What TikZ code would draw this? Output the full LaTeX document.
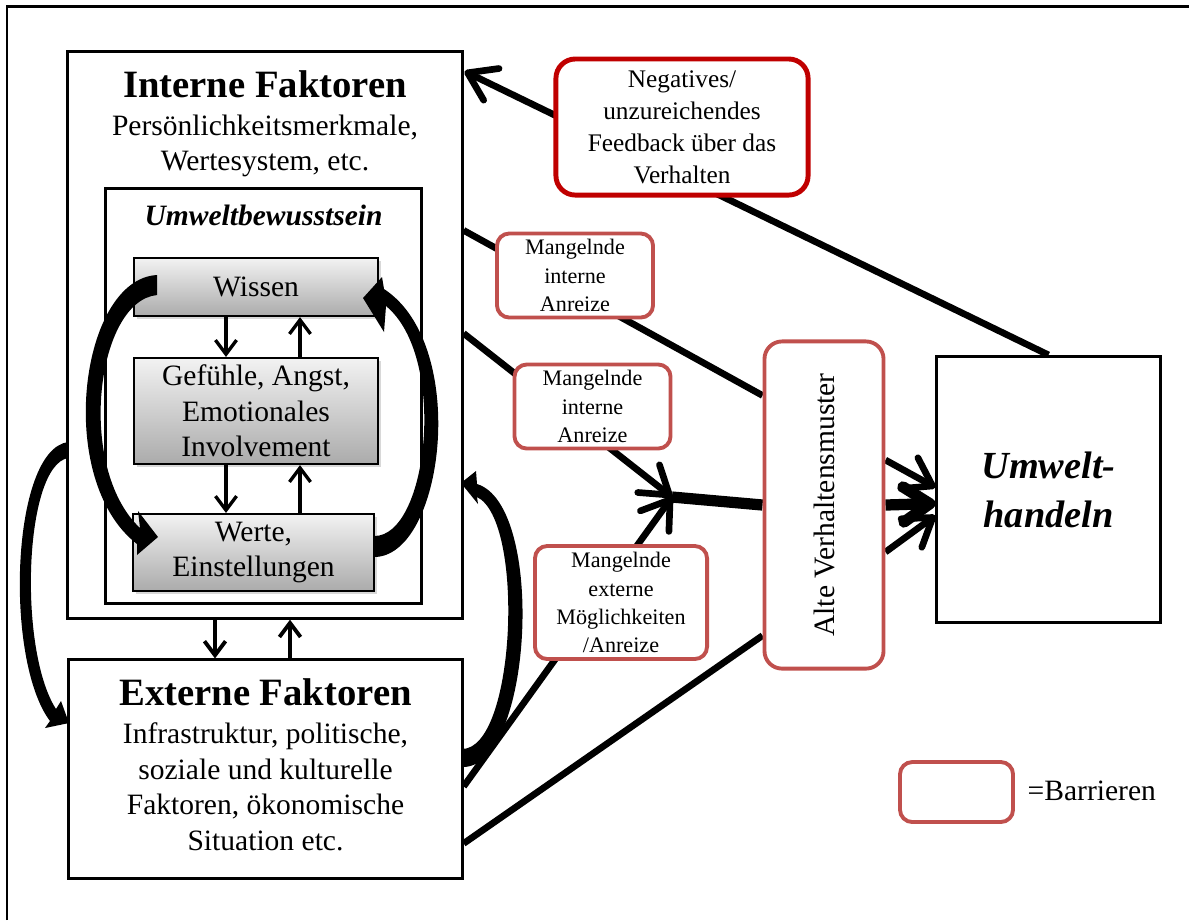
\documentclass[tikz,border=0pt]{standalone}
\usepackage{fontspec}
\setmainfont{Liberation Serif}
\usepackage{graphicx}
\usetikzlibrary{arrows.meta, calc, backgrounds, shadows}

\definecolor{barrot}{HTML}{C0504D}
\definecolor{fbrot}{HTML}{C00000}

\newcommand{\titelschrift}{\fontsize{11}{13}\selectfont\bfseries}
\newcommand{\textschrift}{\fontsize{8.4}{10.1}\selectfont}
\newcommand{\handelnschrift}{\fontsize{10.9}{13.9}\selectfont\bfseries\itshape}
\newcommand{\fbschrift}{\fontsize{7.2}{9.1}\selectfont}
\newcommand{\barschrift}{\fontsize{6.3}{8.0}\selectfont}

\tikzset{
	kasten/.style={draw, line width=0.85pt, fill=white, inner sep=0pt},
	grauKasten/.style={draw, line width=0.6pt, top color=black!5, bottom color=black!33,
		inner sep=0pt, align=center, font=\textschrift,
		drop shadow={shadow xshift=0.8pt, shadow yshift=-0.8pt, opacity=0.3}},
	barriere/.style={draw=barrot, line width=1.1pt, rounded corners=3.5pt, fill=white,
		inner sep=0pt, align=center, font=\barschrift},
	verbinder/.style={line width=1.9pt},
	dickVerbinder/.style={line width=3.2pt},
	spitze/.style={-{Straight Barb[length=7.5pt, width=10pt, round]}},
	kleinPfeil/.style={line width=0.95pt, -{Straight Barb[length=4pt, width=6pt]}}
}

\begin{document}
\begin{tikzpicture}[x=0.01cm, y=-0.01cm]
	\useasboundingbox (0,0) rectangle (1189,920);
	\draw[line width=0.85pt] (7,920) -- (7,6) -- (1189,6);

	\node[kasten, minimum width=3.94cm, minimum height=5.66cm] (interne) at (265,335) {};
	\node[kasten, minimum width=3.93cm, minimum height=2.18cm] (externe) at (265.5,769) {};
	\node[kasten, minimum width=3.15cm, minimum height=4.14cm] (umwelt) at (263.5,396) {};
	\node[kasten, minimum width=2.23cm, minimum height=2.66cm, align=center, font=\handelnschrift] (handeln) at (1048.5,489.5) {Umwelt-\\handeln};

	\node[font=\titelschrift, anchor=base] (intTitel) at (265,97) {Interne Faktoren};
	\node[font=\textschrift, align=center] (intText) at (265,146) {Persönlichkeitsmerkmale,\\Wertesystem, etc.};
	\node[font=\textschrift\bfseries\itshape, anchor=base] (umweltTitel) at (263.5,225) {Umweltbewusstsein};
	\node[font=\titelschrift, anchor=base] (extTitel) at (265.5,705) {Externe Faktoren};
	\node[font=\textschrift, align=center] (extText) at (265.5,787) {Infrastruktur, politische,\\soziale und kulturelle\\Faktoren, ökonomische\\Situation etc.};

	\node[grauKasten, minimum width=2.44cm, minimum height=0.58cm] (wissen) at (256,287) {Wissen};
	\node[grauKasten, minimum width=2.44cm, minimum height=1.06cm] (gefuehle) at (256,411) {Gefühle, Angst,\\Emotionales\\Involvement};
	\node[grauKasten, minimum width=2.41cm, minimum height=0.77cm] (werte) at (253.5,552.5) {Werte,\\Einstellungen};

	\node[barriere, draw=fbrot, line width=1.4pt, rounded corners=5.5pt, font=\fbschrift, minimum width=2.52cm, minimum height=1.36cm] (feedback) at (682,127) {Negatives/\\unzureichendes\\Feedback über das\\Verhalten};
	\node[barriere, minimum width=1.56cm, minimum height=0.84cm] (mangelA) at (575,275.5) {Mangelnde\\interne\\Anreize};
	\node[barriere, minimum width=1.56cm, minimum height=0.84cm] (mangelB) at (592.5,406.5) {Mangelnde\\interne\\Anreize};
	\node[barriere, minimum width=1.72cm, minimum height=1.13cm] (mangelC) at (621,602.5) {Mangelnde\\externe\\Möglichkeiten\\/Anreize};
	\node[barriere, rounded corners=5pt, font=\textschrift, minimum width=1.19cm, minimum height=3.27cm] (alte) at (824,505) {\rotatebox{90}{Alte Verhaltensmuster}};

	\node[barriere, minimum width=1.13cm, minimum height=0.6cm] (legende) at (956.5,792) {};
	\node[font=\textschrift, anchor=base west, inner sep=0pt] (legendeText) at (1027,800) {=Barrieren};

	\coordinate (fbEnde) at ($(interne.north east)+(1,21)$);
	\coordinate (iA) at ($(interne.north east)+(0,180)$);
	\coordinate (iB) at ($(interne.north east)+(0,283)$);
	\coordinate (eA) at ($(externe.north east)+(0,128)$);
	\coordinate (eB) at ($(externe.north east)+(0,185)$);
	\coordinate (knoten) at (672,497);
	\coordinate (aA) at ($(alte.north west)+(0,56)$);
	\coordinate (aB) at ($(alte.south west)+(0,-35)$);
	\coordinate (aOben) at ($(alte.east)+(0,-45)$);
	\coordinate (aUnten) at ($(alte.east)+(0,47)$);
	\coordinate (hOben) at ($(handeln.west)+(0,-2)$);
	\coordinate (hMitte) at ($(handeln.west)+(0,14)$);
	\coordinate (hUnten) at ($(handeln.west)+(0,26)$);
	\coordinate (spurA) at (226,0);
	\coordinate (spurB) at (300,0);
	\coordinate (spurC) at (215,0);
	\coordinate (spurD) at (290,0);

	\begin{pgfonlayer}{background}
		\draw[verbinder, spitze] (handeln.north) -- (fbEnde);
		\draw[verbinder] (iA) -- (aA);
		\draw[verbinder, spitze] (iB) -- (knoten);
		\draw[verbinder, spitze] (eA) -- (knoten);
		\draw[dickVerbinder] (knoten) -- (alte.west);
		\draw[verbinder] (eB) -- (aB);
		\draw[verbinder, spitze] (aOben) -- (hOben);
		\draw[dickVerbinder, spitze] (alte.east) -- (hMitte);
		\draw[verbinder, spitze] (aUnten) -- (hUnten);
	\end{pgfonlayer}

	\draw[kleinPfeil] (spurA |- wissen.south) -- (spurA |- gefuehle.north);
	\draw[kleinPfeil] (spurB |- gefuehle.north) -- (spurB |- wissen.south);
	\draw[kleinPfeil] (spurA |- gefuehle.south) -- (spurA |- werte.north);
	\draw[kleinPfeil] (spurB |- werte.north) -- (spurB |- gefuehle.south);
	\draw[kleinPfeil, line width=1.1pt] (spurC |- interne.south) -- (spurC |- externe.north);
	\draw[kleinPfeil, line width=1.1pt] (spurD |- externe.north) -- (spurD |- interne.south);

	\fill (157,275) .. controls (80,279) and (54,480) .. (137,544) -- (137,555) -- (158,537) -- (138,511)
		-- (140,528) .. controls (76,468) and (96,301) .. (157,295) -- cycle;
	\fill (374,557) .. controls (444,557) and (470,345) .. (384,289) -- (382,277) -- (363,298) -- (384,332)
		-- (386,306) .. controls (448,357) and (428,537) .. (374,536) -- cycle;
	\fill (68,442) .. controls (11,450) and (4,660) .. (50,721) -- (45,728) -- (69,723) -- (61,701)
		-- (56,709) .. controls (18,650) and (24,466) .. (68,458) -- cycle;
	\fill (462,767) .. controls (533,769) and (546,505) .. (477,484) -- (476,471) -- (461,483) -- (478,504)
		-- (477,497) .. controls (525,520) and (516,749) .. (462,749) -- cycle;
\end{tikzpicture}
\end{document}
